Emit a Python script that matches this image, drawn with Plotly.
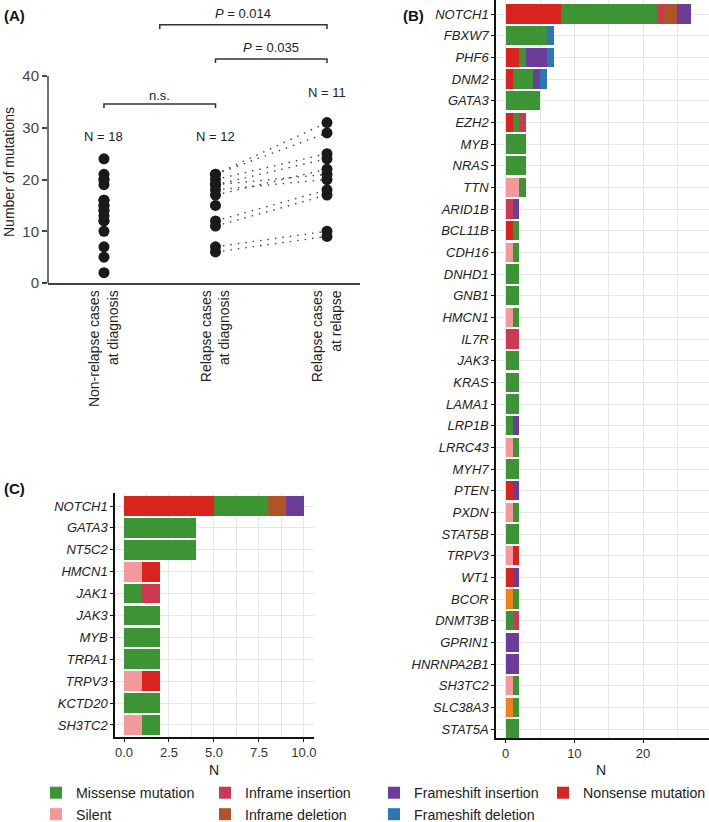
import plotly.graph_objects as go

# ---------------- Panel A data ----------------
cat_labels = ["Non-relapse cases<br>at diagnosis", "Relapse cases<br>at diagnosis", "Relapse cases<br>at relapse"]
nonrelapse_dx = [2, 5, 7, 10, 12, 12, 13, 14, 14, 15, 15, 16, 16, 19, 20, 20, 21, 24]
relapse_dx = [6, 7, 11, 12, 15, 17, 18, 19, 19, 20, 21, 21]
relapse_rel = [9, 10, 17, 18, 20, 21, 22, 24, 25, 29, 31]
# paired (diagnosis, relapse) values for dotted lines
pair_dx = [6, 7, 11, 12, 17, 18, 19, 19, 20, 21, 21]
pair_rel = [9, 10, 17, 18, 22, 20, 24, 21, 25, 29, 31]
n_labels = ["N = 18", "N = 12", "N = 11"]

# ---------------- Panel B data ----------------
genes_B = ["NOTCH1", "FBXW7", "PHF6", "DNM2", "GATA3", "EZH2", "MYB", "NRAS", "TTN", "ARID1B",
           "BCL11B", "CDH16", "DNHD1", "GNB1", "HMCN1", "IL7R", "JAK3", "KRAS", "LAMA1", "LRP1B",
           "LRRC43", "MYH7", "PTEN", "PXDN", "STAT5B", "TRPV3", "WT1", "BCOR", "DNMT3B", "GPRIN1",
           "HNRNPA2B1", "SH3TC2", "SLC38A3", "STAT5A"]
B_silent      = [0, 0, 0, 0, 0, 0, 0, 0, 2, 0, 0, 1, 0, 0, 1, 0, 0, 0, 0, 0, 1, 0, 0, 1, 0, 1, 0, 0, 0, 0, 0, 1, 0, 0]
B_splice      = [0, 0, 0, 0, 0, 0, 0, 0, 0, 0, 0, 0, 0, 0, 0, 0, 0, 0, 0, 0, 0, 0, 0, 0, 0, 0, 0, 1, 0, 0, 0, 0, 1, 0]
B_nonsense    = [8, 0, 2, 1, 0, 1, 0, 0, 0, 0, 1, 0, 0, 0, 0, 0, 0, 0, 0, 0, 0, 0, 1, 0, 0, 1, 1, 0, 0, 0, 0, 0, 0, 0]
B_missense    = [14, 6, 1, 3, 5, 1, 3, 3, 1, 0, 1, 1, 2, 2, 1, 0, 2, 2, 2, 1, 1, 2, 0, 1, 2, 0, 0, 1, 1, 0, 0, 1, 1, 2]
B_inframe_ins = [1, 0, 0, 0, 0, 1, 0, 0, 0, 1, 0, 0, 0, 0, 0, 2, 0, 0, 0, 0, 0, 0, 0, 0, 0, 0, 0, 0, 1, 0, 0, 0, 0, 0]
B_inframe_del = [2, 0, 0, 0, 0, 0, 0, 0, 0, 0, 0, 0, 0, 0, 0, 0, 0, 0, 0, 0, 0, 0, 0, 0, 0, 0, 0, 0, 0, 0, 0, 0, 0, 0]
B_fs_ins      = [2, 0, 3, 1, 0, 0, 0, 0, 0, 1, 0, 0, 0, 0, 0, 0, 0, 0, 0, 1, 0, 0, 1, 0, 0, 0, 1, 0, 0, 2, 2, 0, 0, 0]
B_fs_del      = [0, 1, 1, 1, 0, 0, 0, 0, 0, 0, 0, 0, 0, 0, 0, 0, 0, 0, 0, 0, 0, 0, 0, 0, 0, 0, 0, 0, 0, 0, 0, 0, 0, 0]

# ---------------- Panel C data ----------------
genes_C = ["NOTCH1", "GATA3", "NT5C2", "HMCN1", "JAK1", "JAK3", "MYB", "TRPA1", "TRPV3", "KCTD20", "SH3TC2"]
C_silent      = [0, 0, 0, 1, 0, 0, 0, 0, 1, 0, 1]
C_splice      = [0, 0, 0, 0, 0, 0, 0, 0, 0, 0, 0]
C_nonsense    = [5, 0, 0, 1, 0, 0, 0, 0, 1, 0, 0]
C_missense    = [3, 4, 4, 0, 1, 2, 2, 2, 0, 2, 1]
C_inframe_ins = [0, 0, 0, 0, 1, 0, 0, 0, 0, 0, 0]
C_inframe_del = [1, 0, 0, 0, 0, 0, 0, 0, 0, 0, 0]
C_fs_ins      = [1, 0, 0, 0, 0, 0, 0, 0, 0, 0, 0]
C_fs_del      = [0, 0, 0, 0, 0, 0, 0, 0, 0, 0, 0]

types = ["Silent", "Splice site", "Nonsense mutation", "Missense mutation", "Inframe insertion",
         "Inframe deletion", "Frameshift insertion", "Frameshift deletion"]
colors = {"Silent": "#f4999b", "Splice site": "#f0821e", "Nonsense mutation": "#d9231f",
          "Missense mutation": "#3d9435", "Inframe insertion": "#cc3a52", "Inframe deletion": "#ad5528",
          "Frameshift insertion": "#6b3d98", "Frameshift deletion": "#2a77b4"}
legend_rank = {"Missense mutation": 1, "Inframe insertion": 2, "Frameshift insertion": 3,
               "Nonsense mutation": 4, "Silent": 5, "Inframe deletion": 6, "Frameshift deletion": 7,
               "Splice site": 8}
B_vals = [B_silent, B_splice, B_nonsense, B_missense, B_inframe_ins, B_inframe_del, B_fs_ins, B_fs_del]
C_vals = [C_silent, C_splice, C_nonsense, C_missense, C_inframe_ins, C_inframe_del, C_fs_ins, C_fs_del]

W, H = 709, 822
FONT = "Liberation Sans, Arial, sans-serif"


def px_x(p):
    return p / W


def px_y(p):
    return 1 - p / H


fig = go.Figure()

# ---- Panel A ----
for d, r in zip(pair_dx, pair_rel):
    fig.add_trace(go.Scatter(x=[1, 2], y=[d, r], mode="lines", xaxis="x", yaxis="y",
                             line=dict(color="#444444", width=1.4, dash="1.5px,6px"),
                             showlegend=False, hoverinfo="skip"))
for i, vals in enumerate([nonrelapse_dx, relapse_dx, relapse_rel]):
    fig.add_trace(go.Scatter(x=[i] * len(vals), y=vals, mode="markers", xaxis="x", yaxis="y",
                             marker=dict(color="#1a1a1a", size=11), showlegend=False))

# ---- Panels B and C ----
for t, vb, vc in zip(types, B_vals, C_vals):
    fig.add_trace(go.Bar(y=genes_B, x=vb, orientation="h", name=t, xaxis="x2", yaxis="y2",
                         marker=dict(color=colors[t], line=dict(width=0)), width=0.9,
                         legendrank=legend_rank[t],
                         showlegend=(t != "Splice site")))
    fig.add_trace(go.Bar(y=genes_C, x=vc, orientation="h", name=t, xaxis="x3", yaxis="y3",
                         marker=dict(color=colors[t], line=dict(width=0)), width=0.9,
                         showlegend=False))

# Panel A scale: y=0 at px 283, 40 at px 76
A_bottom, A_top = 283, 8
ppu = (283 - 76) / 40.0
A_ymax = (A_bottom - A_top) / ppu

shapes = [
    # left axis line of panel A (0..40 only)
    dict(type="line", xref="x domain", yref="y", x0=0, x1=0, y0=0, y1=40,
         line=dict(color="#444444", width=1.5)),
    # brackets
    dict(type="path", xref="x", yref="y", path="M 0,33.8 L 0,34.6 L 1,34.6 L 1,33.8",
         line=dict(color="#333333", width=1.5)),
    dict(type="path", xref="x", yref="y", path="M 1,42.5 L 1,43.3 L 2,43.3 L 2,42.5",
         line=dict(color="#333333", width=1.5)),
    dict(type="path", xref="x", yref="y", path="M 0.5,49.1 L 0.5,49.9 L 2,49.9 L 2,49.1",
         line=dict(color="#333333", width=1.5)),
]

ann = []
txt_font = dict(family=FONT, size=13, color="#222222")
for i, lab in enumerate(n_labels):
    ann.append(dict(x=i, y=[28.3, 28.3, 36.8][i], xref="x", yref="y", text=lab, showarrow=False, font=txt_font))
ann += [
    dict(x=0.5, y=36.3, xref="x", yref="y", text="n.s.", showarrow=False, font=txt_font),
    dict(x=1.5, y=45.6, xref="x", yref="y", text="<i>P</i> = 0.035", showarrow=False, font=txt_font),
    dict(x=1.25, y=52.0, xref="x", yref="y", text="<i>P</i> = 0.014", showarrow=False, font=txt_font),
    dict(x=px_x(9), y=px_y(172), xref="paper", yref="paper", text="Number of mutations", textangle=-90,
         xanchor="center", yanchor="middle",
         showarrow=False, font=dict(family=FONT, size=14, color="#222222")),
    dict(x=px_x(2), y=px_y(15), xref="paper", yref="paper", text="<b>(A)</b>", showarrow=False,
         xanchor="left", yanchor="middle", font=dict(family=FONT, size=15, color="#111111")),
    dict(x=px_x(401), y=px_y(15), xref="paper", yref="paper", text="<b>(B)</b>", showarrow=False,
         xanchor="left", yanchor="middle", font=dict(family=FONT, size=15, color="#111111")),
    dict(x=px_x(2), y=px_y(488), xref="paper", yref="paper", text="<b>(C)</b>", showarrow=False,
         xanchor="left", yanchor="middle", font=dict(family=FONT, size=15, color="#111111")),
    dict(x=px_x(601), y=px_y(770), xref="paper", yref="paper", text="N", showarrow=False,
         xanchor="center", yanchor="middle", font=dict(family=FONT, size=14, color="#222222")),
    dict(x=px_x(214), y=px_y(770), xref="paper", yref="paper", text="N", showarrow=False,
         xanchor="center", yanchor="middle", font=dict(family=FONT, size=14, color="#222222")),
]

grid = "#e6e6e6"
tickfont = dict(family=FONT, size=13, color="#333333")
gene_font = dict(family=FONT, size=13, color="#222222", style="italic")

fig.update_layout(
    width=W, height=H, margin=dict(l=0, r=0, t=0, b=0, autoexpand=False),
    paper_bgcolor="white", plot_bgcolor="white",
    barmode="stack", bargap=0.1,
    font=dict(family=FONT, size=13, color="#222222"),
    shapes=shapes, annotations=ann,
    xaxis=dict(domain=[px_x(48), px_x(360)], range=[-0.502, 2.296], anchor="y", automargin=False,
               tickvals=[0, 1, 2], ticktext=cat_labels, tickangle=-90,
               tickfont=dict(family=FONT, size=14, color="#222222"),
               showline=True, linecolor="#444444", linewidth=1.5, ticks="", showgrid=False, zeroline=False),
    yaxis=dict(domain=[px_y(A_bottom), px_y(A_top)], range=[0, A_ymax], anchor="x", automargin=False,
               tickvals=[0, 10, 20, 30, 40], ticks="outside", ticklen=5, tickcolor="#444444", tickwidth=1.5,
               tickfont=dict(family=FONT, size=15, color="#444444"),
               showline=False, showgrid=False, zeroline=False),
    xaxis2=dict(domain=[px_x(496), 1.0], range=[-1.41, 29.6], anchor="y2", automargin=False,
                tickvals=[0, 10, 20], ticks="outside", ticklen=3, tickcolor="#111111",
                tickfont=tickfont, showline=True, linecolor="#111111", linewidth=1.5,
                showgrid=True, gridcolor=grid, gridwidth=1, zeroline=False,
                minor=dict(tickvals=[5, 15, 25], showgrid=True, gridcolor=grid, gridwidth=1, ticks="")),
    yaxis2=dict(domain=[px_y(738), 1.0], range=[33.415, -0.646], anchor="x2", type="category",
                categoryorder="array", categoryarray=genes_B, automargin=False,
                ticks="outside", ticklen=3, tickcolor="#111111", tickfont=gene_font,
                showline=True, linecolor="#111111", linewidth=1.5,
                showgrid=True, gridcolor=grid, gridwidth=1, zeroline=False),
    xaxis3=dict(domain=[px_x(115), px_x(314)], range=[-0.5, 10.56], anchor="y3", automargin=False,
                tickvals=[0, 2.5, 5, 7.5, 10], ticktext=["0.0", "2.5", "5.0", "7.5", "10.0"],
                ticks="outside", ticklen=3, tickcolor="#111111", tickfont=tickfont,
                showline=True, linecolor="#111111", linewidth=1.5,
                showgrid=True, gridcolor=grid, gridwidth=1, zeroline=False,
                minor=dict(tickvals=[1.25, 3.75, 6.25, 8.75], showgrid=True, gridcolor=grid, gridwidth=1, ticks="")),
    yaxis3=dict(domain=[px_y(737), px_y(493.3)], range=[10.55, -0.58], anchor="x3", type="category",
                categoryorder="array", categoryarray=genes_C, automargin=False,
                ticks="outside", ticklen=3, tickcolor="#111111", tickfont=gene_font,
                showline=True, linecolor="#111111", linewidth=1.5,
                showgrid=True, gridcolor=grid, gridwidth=1, zeroline=False),
    legend=dict(orientation="h", x=px_x(36), y=px_y(777), xanchor="left", yanchor="top",
                entrywidth=124, entrywidthmode="pixels", traceorder="normal",
                font=dict(family=FONT, size=14.2, color="#222222"), bgcolor="rgba(0,0,0,0)",
                itemclick=False),
    hovermode=False,
)

fig.write_html("out.html", config={"displayModeBar": False},
               post_script="document.body.style.margin='0px';document.body.style.overflow='hidden';")
